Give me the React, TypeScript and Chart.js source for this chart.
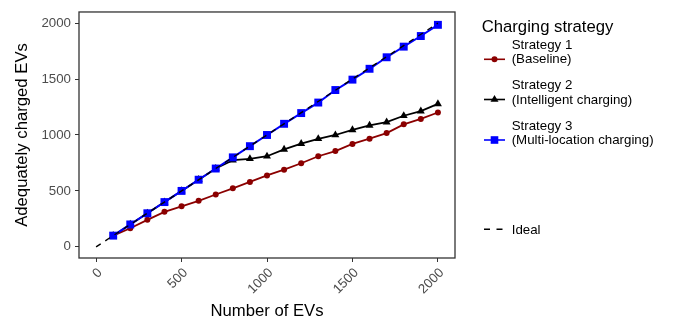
import React, { useEffect, useRef } from "react";
import { Chart, registerables } from "chart.js";

Chart.register(...registerables);

const evCounts = [100, 200, 300, 400, 500, 600, 700, 800, 900, 1000, 1100, 1200, 1300, 1400, 1500, 1600, 1700, 1800, 1900, 2000];
const strategy1 = [100, 166, 241, 313, 362, 411, 468, 523, 580, 638, 690, 747, 810, 856, 920, 967, 1017, 1095, 1144, 1201];
const strategy2 = [100, 200, 300, 400, 500, 600, 700, 775, 787, 810, 871, 922, 966, 1000, 1046, 1086, 1115, 1172, 1213, 1278];
const strategy3 = [100, 200, 300, 400, 500, 600, 700, 800, 900, 1000, 1100, 1196, 1290, 1402, 1495, 1592, 1695, 1790, 1885, 1985];
const idealX = [0, 2000];
const idealY = [0, 2000];
const xTickValues = [0, 500, 1000, 1500, 2000];
const yTickValues = [0, 500, 1000, 1500, 2000];

const legendTitle = "Charging strategy";
const legendItems = [
  { line1: "Strategy 1", line2: "(Baseline)", color: "#8B0000", shape: "circle" },
  { line1: "Strategy 2", line2: "(Intelligent charging)", color: "#000000", shape: "triangle" },
  { line1: "Strategy 3", line2: "(Multi-location charging)", color: "#0000FF", shape: "square" },
];
const idealLabel = "Ideal";

const FONT = '"Liberation Sans", Arial, Helvetica, sans-serif';

function pts(xs: number[], ys: number[]) {
  return xs.map((x, i) => ({ x, y: ys[i] }));
}

const panelBorder = {
  id: "panelBorder",
  afterDraw(chart: any) {
    const { ctx, chartArea } = chart;
    ctx.save();
    ctx.strokeStyle = "#333333";
    ctx.lineWidth = 1.3;
    ctx.strokeRect(chartArea.left, chartArea.top, chartArea.right - chartArea.left, chartArea.bottom - chartArea.top);
    ctx.restore();
  },
};

export default function App() {
  const ref = useRef<HTMLCanvasElement>(null);

  useEffect(() => {
    if (!ref.current) return;
    Chart.defaults.font.family = FONT;
    const chart = new Chart(ref.current, {
      type: "line",
      data: {
        datasets: [
          {
            label: "Ideal",
            data: pts(idealX, idealY),
            borderColor: "#000000",
            borderWidth: 1.4,
            borderDash: [5.5, 5.5],
            pointRadius: 0,
            fill: false,
          },
          {
            label: "Strategy 3",
            data: pts(evCounts, strategy3),
            borderColor: "#0000FF",
            backgroundColor: "#0000FF",
            borderWidth: 2,
            pointStyle: "rect",
            pointRadius: 5.6,
            pointBorderWidth: 0,
            fill: false,
          },
          {
            label: "Strategy 2",
            data: pts(evCounts, strategy2),
            borderColor: "#000000",
            backgroundColor: "#000000",
            borderWidth: 1.8,
            pointStyle: "triangle",
            pointRadius: 4.6,
            pointBorderWidth: 0,
            fill: false,
          },
          {
            label: "Strategy 1",
            data: pts(evCounts, strategy1),
            borderColor: "#8B0000",
            backgroundColor: "#8B0000",
            borderWidth: 1.8,
            pointStyle: "circle",
            pointRadius: 3,
            pointBorderWidth: 0,
            fill: false,
          },
        ],
      },
      options: {
        responsive: false,
        animation: false,
        events: [],
        layout: { padding: { left: 0, right: 223, top: 3, bottom: 0 } },
        plugins: { legend: { display: false }, tooltip: { enabled: false } },
        elements: { line: { tension: 0 } },
        scales: {
          x: {
            type: "linear",
            min: -100,
            max: 2100,
            afterBuildTicks: (s: any) => {
              s.ticks = xTickValues.map((v) => ({ value: v }));
            },
            afterFit: (s: any) => {
              s.height = 70;
            },
            grid: { display: true, drawOnChartArea: false, drawTicks: true, tickLength: 4, color: "#333333", lineWidth: 1 },
            border: { display: false },
            ticks: {
              autoSkip: false,
              minRotation: 45,
              maxRotation: 45,
              labelOffset: 4,
              padding: 3,
              color: "#4D4D4D",
              font: { size: 13.3, family: FONT },
              callback: (v: any) => String(v),
            },
            title: {
              display: true,
              text: "Number of EVs",
              color: "#000000",
              font: { size: 16.7, family: FONT },
              padding: { top: 0, bottom: 7 },
            },
          },
          y: {
            type: "linear",
            min: -100,
            max: 2100,
            afterBuildTicks: (s: any) => {
              s.ticks = yTickValues.map((v) => ({ value: v }));
            },
            afterFit: (s: any) => {
              s.width = 79;
            },
            grid: { display: true, drawOnChartArea: false, drawTicks: true, tickLength: 4, color: "#333333", lineWidth: 1 },
            border: { display: false },
            ticks: {
              padding: 4,
              color: "#4D4D4D",
              font: { size: 13.3, family: FONT },
              callback: (v: any) => String(v),
            },
            title: {
              display: true,
              text: "Adequately charged EVs",
              color: "#000000",
              font: { size: 16.7, family: FONT },
              padding: { top: 12, bottom: 0 },
            },
          },
        },
      },
      plugins: [panelBorder],
    } as any);
    return () => chart.destroy();
  }, []);

  const labelSize = 13.3;
  const titleSize = 16.7;
  const baseOff = (fs: number) => 0.8465 * fs;
  const textStyle = (top: number, fs: number): React.CSSProperties => ({
    position: "absolute",
    left: 511.7,
    top,
    fontSize: fs,
    lineHeight: `${fs}px`,
    fontFamily: FONT,
    color: "#000000",
    whiteSpace: "nowrap",
    margin: 0,
  });

  const itemBaselines = [49.2, 89.6, 130];
  const keyYs = [59.3, 99.5, 140];
  const idealBaseline = 234;
  const idealKeyY = 229.3;

  return (
    <div style={{ position: "absolute", left: 0, top: 0, width: 678, height: 328, overflow: "hidden", background: "#ffffff" }}>
      <canvas ref={ref} width={678} height={328} style={{ display: "block", width: 678, height: 328 }} />
      <div style={{ ...textStyle(32.7 - baseOff(titleSize), titleSize), left: 481.7 }}>{legendTitle}</div>
      {legendItems.map((it, i) => (
        <React.Fragment key={i}>
          <div style={textStyle(itemBaselines[i] - baseOff(labelSize), labelSize)}>{it.line1}</div>
          <div style={textStyle(itemBaselines[i] + 14.4 - baseOff(labelSize), labelSize)}>{it.line2}</div>
        </React.Fragment>
      ))}
      <div style={textStyle(idealBaseline - baseOff(labelSize), labelSize)}>{idealLabel}</div>
      <svg width={678} height={328} style={{ position: "absolute", left: 0, top: 0, pointerEvents: "none" }}>
        {legendItems.map((it, i) => {
          const y = keyYs[i];
          const cx = 494.5;
          let marker: any = null;
          if (it.shape === "circle") marker = <circle cx={cx} cy={y} r={3} fill={it.color} />;
          else if (it.shape === "square") marker = <rect x={cx - 3.8} y={y - 3.8} width={7.6} height={7.6} fill={it.color} />;
          else marker = <polygon points={`${cx},${y - 4.6} ${cx + 4},${y + 2.3} ${cx - 4},${y + 2.3}`} fill={it.color} />;
          return (
            <g key={i}>
              <line x1={484} x2={505} y1={y} y2={y} stroke={it.color} strokeWidth={1.6} />
              {marker}
            </g>
          );
        })}
        <line x1={484} x2={505} y1={idealKeyY} y2={idealKeyY} stroke="#000000" strokeWidth={1.5} strokeDasharray="6 6.5" />
      </svg>
    </div>
  );
}
